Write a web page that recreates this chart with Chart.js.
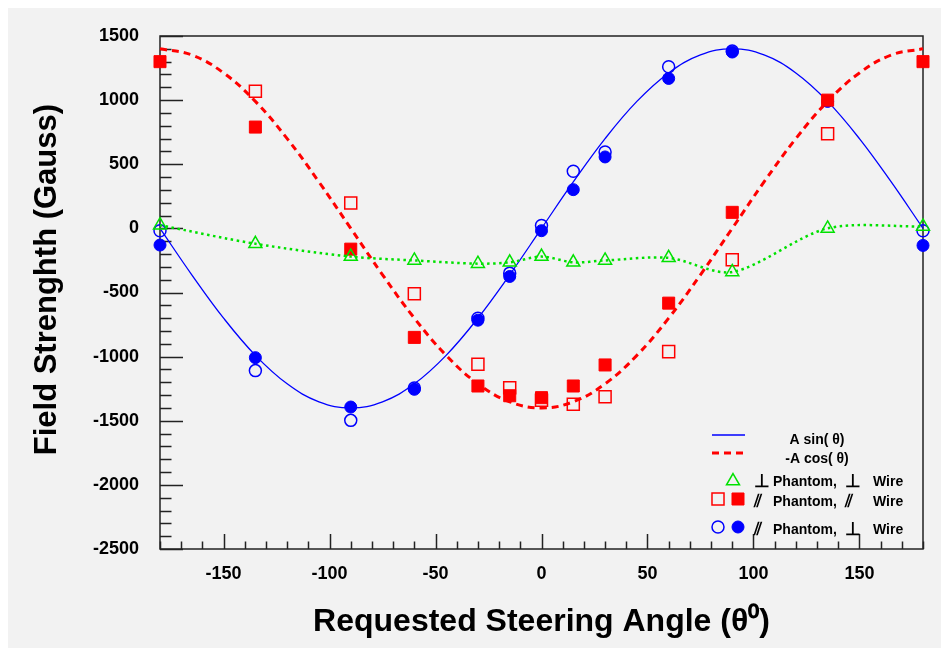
<!DOCTYPE html>
<html><head><meta charset="utf-8">
<script src="https://cdn.jsdelivr.net/npm/chart.js@4.4.1/dist/chart.umd.min.js"></script>
<style>html,body{margin:0;padding:0;background:#fff;}canvas{display:block;}</style>
</head><body>
<canvas id="c" width="947" height="648"></canvas>
<script>
// ---- data ----
const angles = [-180,-135,-90,-60,-30,-15,0,15,30,60,90,135,180];
const perpPhantomPerpWire = [25,-120,-220,-250,-275,-265,-220,-265,-250,-230,-340,0,15];
const parPhantomParWireFilled = [1300,790,-162,-850,-1229,-1305,-1320,-1229,-1065,-583,125,1000,1300];
const parPhantomParWireOpen = [null,1070,198,-510,-1060,-1242,-1340,-1372,-1312,-961,-245,737,null];
const parPhantomPerpWireFilled = [-130,-1008,-1393,-1255,-716,-375,-18,302,557,1169,1375,990,-133];
const parPhantomPerpWireOpen = [-18,-1109,-1497,-1245,-700,-349,23,445,596,1260,1383,null,-18];
const curveAngles = [-180,-165,-150,-135,-120,-105,-90,-75,-60,-45,-30,-15,0,15,30,45,60,75,90,105,120,135,150,165,180];
const sinCurve = [0,-362,-700,-990,-1212,-1352,-1400,-1352,-1212,-990,-700,-362,0,362,700,990,1212,1352,1400,1352,1212,990,700,362,0];
const cosCurve = [1400,1352,1212,990,700,362,0,-362,-700,-990,-1212,-1352,-1400,-1352,-1212,-990,-700,-362,0,362,700,990,1212,1352,1400];
const xTickLabels = [-150,-100,-50,0,50,100,150];
const yTickLabels = [-2500,-2000,-1500,-1000,-500,0,500,1000,1500];
const seriesNames = ['A sin( \u03b8)', '-A cos( \u03b8)'];

const FONT = '"Liberation Sans", Arial, Helvetica, sans-serif';
const pts = (xs, ys) => xs.map((x, i) => ({x, y: ys[i]})).filter(p => p.y !== null);

const BLUE = '#0000ff', RED = '#ff0000', GREEN = 'rgb(0,225,0)';

const datasets = [
  {label: seriesNames[0], data: pts(curveAngles, sinCurve), borderColor: BLUE, borderWidth: 1.3,
   pointRadius: 0, tension: 0.4, showLine: true, order: 10, clip: false},
  {label: seriesNames[1], data: pts(curveAngles, cosCurve), borderColor: RED, borderWidth: 3,
   borderDash: [7, 5], pointRadius: 0, tension: 0.4, showLine: true, order: 9, clip: false},
  {label: 'par-perp open', data: pts(angles, parPhantomPerpWireOpen), showLine: false, pointStyle: 'circle',
   pointRadius: 6, borderColor: BLUE, backgroundColor: 'rgba(0,0,0,0)', borderWidth: 1.5, order: 8, clip: false},
  {label: 'par-perp filled', data: pts(angles, parPhantomPerpWireFilled), showLine: false, pointStyle: 'circle',
   pointRadius: 6, borderColor: BLUE, backgroundColor: BLUE, borderWidth: 1, order: 7, clip: false},
  {label: 'par-par open', data: pts(angles, parPhantomParWireOpen), showLine: false, pointStyle: 'rect',
   pointRadius: 8.5, borderColor: RED, backgroundColor: 'rgba(0,0,0,0)', borderWidth: 1.5, order: 6, clip: false},
  {label: 'par-par filled', data: pts(angles, parPhantomParWireFilled), showLine: false, pointStyle: 'rect',
   pointRadius: 8.5, borderColor: RED, backgroundColor: RED, borderWidth: 1, order: 5, clip: false},
  {label: 'perp-perp', data: pts(angles, perpPhantomPerpWire), showLine: true, pointStyle: 'triangle',
   pointRadius: 7.5, borderColor: GREEN, pointBorderColor: GREEN, backgroundColor: 'rgba(0,0,0,0)',
   pointBackgroundColor: 'rgba(0,0,0,0)', borderWidth: 2.5, pointBorderWidth: 1.5, borderDash: [2.5, 3.5],
   tension: 0.3, order: 4, clip: false}
];

const background = {
  id: 'background',
  beforeDraw(chart) {
    const c = chart.ctx; c.save();
    c.fillStyle = '#ffffff'; c.fillRect(0, 0, chart.width, chart.height);
    c.fillStyle = '#f2f2f2'; c.fillRect(8, 8, 933, 640);
    c.restore();
  }
};

const frame = {
  id: 'frame',
  beforeDatasetsDraw(chart) {
    const {ctx, chartArea: a, scales: {x, y}} = chart;
    ctx.save();
    ctx.strokeStyle = '#222'; ctx.lineWidth = 1.5;
    ctx.strokeRect(a.left, a.top, a.right - a.left, a.bottom - a.top);
    ctx.beginPath();
    for (let v = y.min; v <= y.max; v += 100) {
      const py = Math.round(y.getPixelForValue(v)) + 0.5;
      const len = (v % 500 === 0) ? 23 : 11.5;
      ctx.moveTo(a.left, py); ctx.lineTo(a.left + len, py);
    }
    for (let v = x.min; v <= x.max; v += 10) {
      const px = Math.round(x.getPixelForValue(v)) + 0.5;
      const len = (v % 50 === 0) ? 15 : 7.5;
      ctx.moveTo(px, a.bottom); ctx.lineTo(px, a.bottom - len);
    }
    ctx.stroke();
    ctx.restore();
  }
};

const legend = {
  id: 'customLegend',
  afterDraw(chart) {
    const ctx = chart.ctx;
    const ds = chart.data.datasets;
    ctx.save();
    ctx.strokeStyle = ds[0].borderColor; ctx.lineWidth = ds[0].borderWidth;
    ctx.beginPath(); ctx.moveTo(712, 435); ctx.lineTo(745, 435); ctx.stroke();
    ctx.strokeStyle = ds[1].borderColor; ctx.lineWidth = ds[1].borderWidth; ctx.setLineDash(ds[1].borderDash);
    ctx.beginPath(); ctx.moveTo(712, 453); ctx.lineTo(748, 453); ctx.stroke();
    ctx.setLineDash([]);
    ctx.fillStyle = '#000'; ctx.textBaseline = 'middle';
    ctx.font = 'bold 14px ' + FONT; ctx.textAlign = 'center';
    ctx.fillText(ds[0].label, 817, 440);
    ctx.fillText(ds[1].label, 817, 459);
    const place = (d, px, py) => {
      ctx.save();
      ctx.strokeStyle = d.pointBorderColor || d.borderColor;
      ctx.fillStyle = d.pointBackgroundColor || d.backgroundColor;
      ctx.lineWidth = d.pointBorderWidth || d.borderWidth;
      Chart.helpers.drawPoint(ctx, {pointStyle: d.pointStyle, radius: d.pointRadius, rotation: 0,
        borderWidth: d.pointBorderWidth || d.borderWidth}, px, py);
      ctx.restore();
    };
    place(ds[6], 733, 481);
    place(ds[4], 718, 499); place(ds[5], 738, 499);
    place(ds[2], 718, 527); place(ds[3], 738, 527);
    ctx.textAlign = 'left'; ctx.fillStyle = '#000';
    const row = (s1, s2, py) => {
      ctx.font = 'bold 18px ' + FONT; ctx.fillText(s1, 754, py);
      ctx.font = 'bold 14px ' + FONT; ctx.fillText('Phantom,', 773, py);
      ctx.font = 'bold 18px ' + FONT; ctx.fillText(s2, 845, py);
      ctx.font = 'bold 14px ' + FONT; ctx.fillText('Wire', 873, py);
    };
    row('\u22a5', '\u22a5', 482);
    row('\u2afd', '\u2afd', 502);
    row('\u2afd', '\u22a5', 530);
    ctx.restore();
  }
};

new Chart(document.getElementById('c'), {
  type: 'scatter',
  data: {datasets},
  options: {
    responsive: false, animation: false, devicePixelRatio: 1,
    layout: {padding: {top: 36, right: 24, left: 0, bottom: 0}},
    plugins: {legend: {display: false}, tooltip: {enabled: false}},
    scales: {
      x: {
        type: 'linear', min: -180, max: 180,
        afterBuildTicks: s => { s.ticks = xTickLabels.map(v => ({value: v})); },
        afterFit: s => { s.height = 99; },
        grid: {display: false, drawTicks: false}, border: {display: false},
        ticks: {color: '#000', padding: 14, maxRotation: 0, autoSkip: false,
                callback: v => String(v),
                font: {family: FONT, size: 18, weight: 'bold'}},
        title: {display: true, text: 'Requested Steering Angle (\u03b8\u2070)', color: '#000',
                font: {family: FONT, size: 32, weight: 'bold'}, padding: {top: 0, bottom: 7}}
      },
      y: {
        type: 'linear', min: -2500, max: 1500,
        afterBuildTicks: s => { s.ticks = yTickLabels.map(v => ({value: v})); },
        afterFit: s => { s.width = 160; },
        grid: {display: false, drawTicks: false}, border: {display: false},
        ticks: {color: '#000', padding: 21, callback: v => String(v),
                font: {family: FONT, size: 18, weight: 'bold'}},
        title: {display: true, text: '   Field Strenghth (Gauss)', color: '#000',
                font: {family: FONT, size: 31, weight: 'bold'}, padding: {top: 29, bottom: 0}}
      }
    }
  },
  plugins: [background, frame, legend]
});
</script>
</body></html>
